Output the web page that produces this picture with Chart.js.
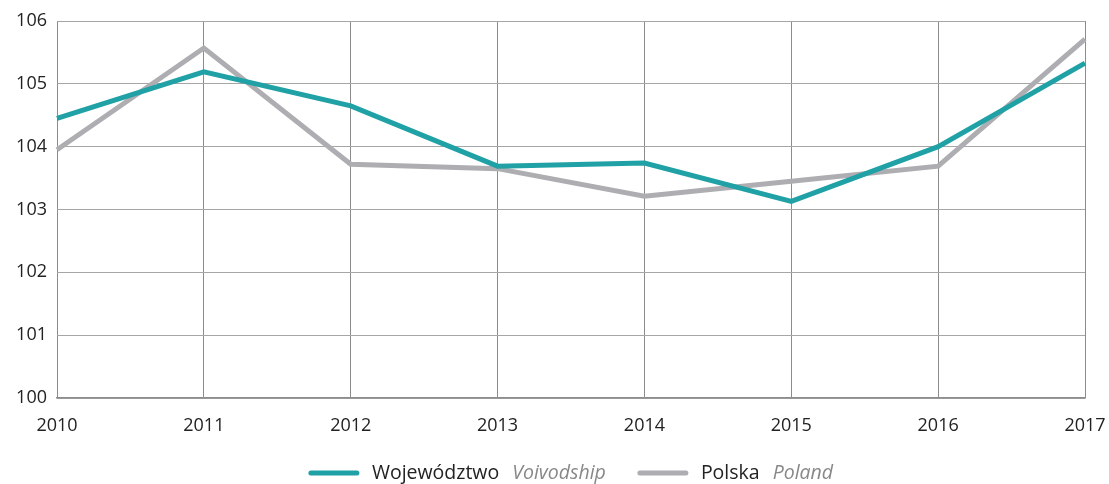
<!DOCTYPE html>
<html>
<head>
<meta charset="utf-8">
<script src="https://cdn.jsdelivr.net/npm/chart.js@4"></script>
<style>
  html, body { margin: 0; padding: 0; background: #fff; }
  #wrap { width: 1109px; height: 484px; position: relative; }
</style>
</head>
<body>
<div id="wrap"><canvas id="chart"></canvas></div>
<script>
// --- Data ---
const years = ['2010', '2011', '2012', '2013', '2014', '2015', '2016', '2017'];
const voivodship = [104.45, 105.19, 104.65, 103.69, 103.74, 103.13, 104.0, 105.33];
const poland = [103.95, 105.57, 103.72, 103.65, 103.21, 103.45, 103.69, 105.71];
const yTicks = [100, 101, 102, 103, 104, 105, 106];

const legendItems = [
    { color: '#1fa1a5', main: 'Województwo', sub: 'Voivodship' },
    { color: '#aeaeb2', main: 'Polska', sub: 'Poland' }
];

const FONT = '"Open Sans", "Noto Sans", sans-serif';

// legend drawn by hand: black label + grey italic translation
const legendPlugin = {
    id: 'splitLegend',
    afterDraw(chart) {
        const c = chart.ctx;
        const y = 473;
        const swatch = 50, gapSw = 13, gapWords = 13, gapItems = 32;
        c.save();
        const parts = legendItems.map(it => {
            c.font = '19.5px ' + FONT;
            const wMain = c.measureText(it.main).width;
            c.font = 'italic 19.5px ' + FONT;
            const wSub = c.measureText(it.sub).width;
            return { it, wMain, wSub, w: swatch + gapSw + wMain + gapWords + wSub };
        });
        const total = parts.reduce((s, p) => s + p.w, 0) + gapItems * (parts.length - 1);
        // centred under the plot area rather than the whole canvas
        const area = chart.chartArea;
        let x = (area.left + area.right) / 2 - total / 2;
        c.textBaseline = 'middle';
        parts.forEach(p => {
            c.strokeStyle = p.it.color;
            c.lineWidth = 5;
            c.lineCap = 'round';
            c.beginPath();
            c.moveTo(x + 2, y);
            c.lineTo(x + swatch - 2, y);
            c.stroke();
            x += swatch + gapSw;
            c.fillStyle = '#222';
            c.font = '19.5px ' + FONT;
            c.fillText(p.it.main, x, y);
            x += p.wMain + gapWords;
            c.fillStyle = '#888';
            c.font = 'italic 19.5px ' + FONT;
            c.fillText(p.it.sub, x, y);
            x += p.wSub + gapItems;
        });
        c.restore();
    }
};

const ctx = document.getElementById('chart').getContext('2d');
new Chart(ctx, {
    type: 'line',
    data: {
        labels: years,
        datasets: [
            {
                label: 'Polska Poland',
                data: poland,
                borderColor: '#aeaeb2',
                borderWidth: 5,
                pointRadius: 0,
                tension: 0,
                order: 2
            },
            {
                label: 'Województwo Voivodship',
                data: voivodship,
                borderColor: '#1fa1a5',
                borderWidth: 5,
                pointRadius: 0,
                tension: 0,
                order: 1
            }
        ]
    },
    options: {
        responsive: true,
        maintainAspectRatio: false,
        animation: false,
        layout: { padding: { top: 21, right: 24, left: 0, bottom: 0 } },
        plugins: {
            legend: { display: false },
            tooltip: { enabled: false }
        },
        scales: {
            x: {
                offset: false,
                grid: { color: '#8c8c8c', lineWidth: 1, drawTicks: false },
                border: { color: '#8c8c8c', width: 1.5 },
                ticks: { color: '#222', font: { family: FONT, size: 18 }, padding: 17, maxRotation: 0 },
                afterFit: s => { s.height = 86; s.paddingLeft = 0; s.paddingRight = 0; }
            },
            y: {
                min: 100,
                max: 106,
                afterBuildTicks: s => { s.ticks = yTicks.map(v => ({ value: v })); },
                grid: { color: '#a6a6a6', lineWidth: 1, drawTicks: false },
                border: { display: false },
                ticks: { color: '#222', font: { family: FONT, size: 18 }, padding: 10 },
                afterFit: s => { s.width = 57; s.paddingTop = 0; s.paddingBottom = 0; }
            }
        }
    },
    plugins: [legendPlugin]
});
</script>
</body>
</html>
